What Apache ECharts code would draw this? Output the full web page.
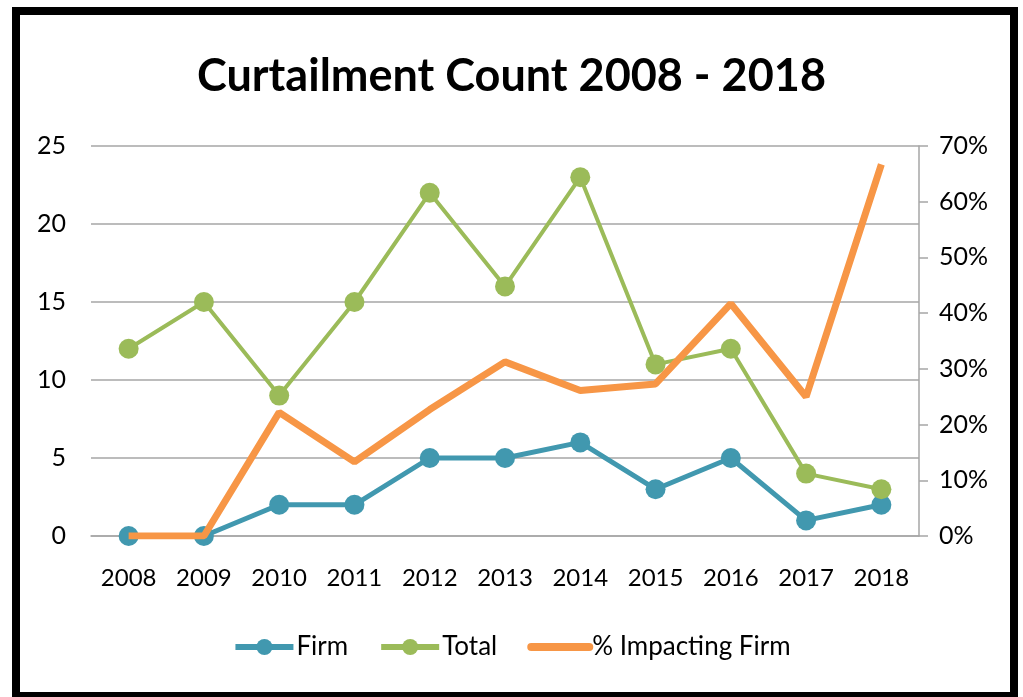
<!DOCTYPE html>
<html><head><meta charset="utf-8">
<script src="https://cdn.jsdelivr.net/npm/echarts@6/dist/echarts.min.js"></script>
<style>html,body{margin:0;padding:0;background:#fff}#c{width:1023px;height:697px}</style>
</head><body><div id="c"></div>
<script>
const years = ['2008','2009','2010','2011','2012','2013','2014','2015','2016','2017','2018'];
const firm = [0,0,2,2,5,5,6,3,5,1,2];
const total = [12,15,9,15,22,16,23,11,12,4,3];
const pctFirm = [0,0,0.222,0.133,0.227,0.3125,0.261,0.273,0.417,0.25,0.667];
const leftTicks = {min:0,max:25,interval:5};
const rightTicks = {min:0,max:0.7,interval:0.1};

const FONT = 'Lato';
const chart = echarts.init(document.getElementById('c'));
chart.setOption({
  animation:false,
  textStyle:{fontFamily:FONT},
  title:{text:'Curtailment Count 2008 - 2018',left:'center',top:49,
    textStyle:{fontFamily:FONT,fontSize:45,fontWeight:'bold',color:'#000'}},
  graphic:[{type:'rect',shape:{x:16,y:11,width:998,height:685},
    style:{fill:'none',stroke:'#000',lineWidth:8},z:100}],
  grid:{left:91,right:104,top:146,bottom:161},
  legend:{top:629,left:'center',itemWidth:58,itemHeight:20,itemGap:30,
    textStyle:{fontFamily:FONT,fontSize:26,color:'#000',padding:[0,0,0,-2]},
    data:[
      {name:'Firm',lineStyle:{width:6}},
      {name:'Total',lineStyle:{width:6}},
      {name:'% Impacting Firm',itemStyle:{opacity:0},lineStyle:{width:8,cap:'round'}}
    ]},
  xAxis:{type:'category',data:years,boundaryGap:true,
    axisLine:{show:true,lineStyle:{color:'#a6a6a6',width:1.5}},axisTick:{show:false},
    axisLabel:{fontSize:24,color:'#000',margin:30,interval:0}},
  yAxis:[
    {type:'value',min:leftTicks.min,max:leftTicks.max,interval:leftTicks.interval,
      axisLine:{show:false},axisTick:{show:false},
      axisLabel:{fontSize:25,color:'#000',margin:25},
      splitLine:{lineStyle:{color:'#a6a6a6',width:1.5}}},
    {type:'value',min:rightTicks.min,max:rightTicks.max,interval:rightTicks.interval,position:'right',
      axisLine:{show:true,lineStyle:{color:'#a6a6a6',width:1.5}},
      axisTick:{show:true,inside:false,length:9,lineStyle:{color:'#a6a6a6',width:1.5}},
      axisLabel:{fontSize:25,color:'#000',margin:20,formatter:v=>Math.round(v*100)+'%'},
      splitLine:{show:false}}
  ],
  series:[
    {name:'Firm',type:'line',data:firm,yAxisIndex:0,symbol:'circle',symbolSize:20,
      lineStyle:{color:'#4198AF',width:5},itemStyle:{color:'#4198AF'},z:3},
    {name:'Total',type:'line',data:total,yAxisIndex:0,symbol:'circle',symbolSize:20,
      lineStyle:{color:'#9BBB59',width:4},itemStyle:{color:'#9BBB59'},z:3},
    {name:'% Impacting Firm',type:'line',data:pctFirm,yAxisIndex:1,symbol:'none',showSymbol:false,
      lineStyle:{color:'#F79646',width:7},itemStyle:{color:'#F79646'},z:4}
  ]
});
</script></body></html>
